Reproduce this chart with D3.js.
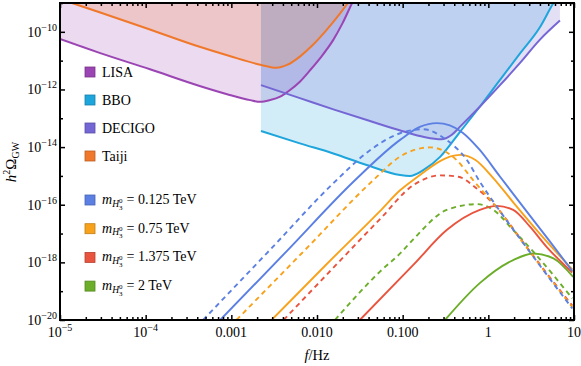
<!DOCTYPE html>
<html>
<head>
<meta charset="utf-8">
<script src="https://cdnjs.cloudflare.com/ajax/libs/d3/7.8.5/d3.min.js"></script>
<style>
    body { margin: 0; background: #fff; }
    svg { display: block; }
    svg text { font-family: "Liberation Serif", "DejaVu Serif", serif; }
</style>
</head>
<body>
<svg id="chart" width="581" height="366"></svg>
<script>
// all curves are [log10(f/Hz), log10(h^2 Omega_GW)]

// detector sensitivity curves
const lisa = [[-5, -10.25], [-4.53, -10.74], [-3.95, -11.30], [-3.37, -11.88], [-3.02, -12.19],
    [-2.78, -12.37], [-2.665, -12.43], [-2.55, -12.37], [-2.43, -12.25], [-2.315, -12.02],
    [-2.2, -11.73], [-2.08, -11.33], [-1.965, -10.92], [-1.81, -10.28], [-1.70, -9.69],
    [-1.59, -9.0], [-1.5, -8.5]];
const bbo = [[-2.654, -13.44], [-2.2, -13.87], [-1.81, -14.22], [-1.42, -14.62], [-1.03, -14.97],
    [-0.915, -15.0], [-0.76, -14.80], [-0.56, -14.33], [-0.33, -13.47], [-0.1, -12.60],
    [0.136, -11.67], [0.37, -10.75], [0.6, -9.85], [0.76, -9.0], [0.9, -8.4]];
const decigo = [[-2.654, -11.85], [-2.2, -12.3], [-1.8, -12.7], [-1.4, -13.08], [-1.0, -13.45],
    [-0.75, -13.65], [-0.55, -13.73], [-0.43, -13.58], [-0.33, -13.29], [-0.1, -12.60],
    [0.136, -11.85], [0.37, -11.08], [0.6, -10.28], [0.836, -9.61]];
const taiji = [[-5, -8.86], [-4.86, -9.0], [-4.53, -9.33], [-3.95, -9.92], [-3.37, -10.52],
    [-3.02, -10.84], [-2.65, -11.15], [-2.47, -11.25], [-2.35, -11.15], [-2.2, -10.86],
    [-2.05, -10.46], [-1.89, -9.94], [-1.73, -9.36], [-1.64, -9.0], [-1.55, -8.6]];

// GW spectra, solid and dashed version for each H3 mass
const blueSolid = [[-3.13, -20], [-2.35, -17.6], [-1.557, -15.15], [-1.03, -13.75], [-0.8, -13.3],
    [-0.6, -13.17], [-0.45, -13.25], [-0.3, -13.5], [-0.1, -14.1], [0.13, -15.0], [0.4, -16.05],
    [0.7, -17.2], [0.98, -18.3]];
const blueDash = [[-3.33, -20], [-2.55, -17.57], [-1.77, -15.14], [-1.4, -14.15], [-1.03, -13.52],
    [-0.76, -13.38], [-0.49, -13.75], [-0.25, -14.45], [-0.1, -15.2], [0.1, -16.07], [0.4, -17.3],
    [0.7, -18.5], [0.98, -19.6]];
const orangeSolid = [[-2.53, -20], [-1.9, -18.1], [-1.265, -16.22], [-1.03, -15.5], [-0.876, -15.14],
    [-0.33, -14.27], [-0.15, -14.45], [0.05, -15.05], [0.3, -15.95], [0.6, -17.0], [0.98, -18.25]];
const orangeDash = [[-2.94, -20], [-2.14, -17.57], [-1.34, -15.14], [-1.03, -14.33], [-0.68, -14.01],
    [-0.37, -14.45], [-0.18, -15.14], [0.1, -16.1], [0.4, -17.3], [0.7, -18.48], [0.98, -19.55]];
const redSolid = [[-1.5, -20], [-0.876, -18.09], [-0.486, -16.88], [-0.1, -16.18], [0.1, -16.04],
    [0.29, -16.18], [0.486, -16.76], [0.68, -17.46], [0.98, -18.35]];
const redDash = [[-2.39, -20], [-1.83, -18.25], [-1.265, -16.5], [-0.876, -15.32], [-0.56, -14.98],
    [-0.35, -15.03], [-0.15, -15.4], [0.1, -16.1], [0.4, -17.28], [0.7, -18.45], [0.98, -19.5]];
const greenSolid = [[-0.506, -20], [-0.1, -18.72], [0.29, -17.92], [0.525, -17.69], [0.76, -17.86], [0.99, -18.5]];
const greenDash = [[-1.79, -20], [-1.265, -18.32], [-1.03, -17.69], [-0.876, -17.2], [-0.486, -16.18],
    [-0.136, -15.98], [0.06, -16.18], [0.29, -16.88], [0.525, -17.63], [0.98, -19.25]];

const detectorNames = ["LISA", "BBO", "DECIGO", "Taiji"];
const detectorColors = ["#9b44b3", "#1ea5dc", "#7466d4", "#f0782a"];
const massLabels = ["0.125", "0.75", "1.375", "2"];
const massColors = ["#5b7fe3", "#f8a21c", "#e9543f", "#6cae2a"];

const xTickValues = [1e-5, 1e-4, 1e-3, 1e-2, 1e-1, 1, 10];
const xTickLabels = [["10", "−5"], ["10", "−4"], ["0.001", ""], ["0.010", ""], ["0.100", ""], ["1", ""], ["10", ""]];
const yLabelExponents = [-20, -18, -16, -14, -12, -10];

class GwChart {
    constructor(_config) {
        this.config = {
            parentElement: _config.parentElement,
            margin: { top: 3, right: 7, bottom: 46, left: 60 },
            containerWidth: 581,
            containerHeight: 366,
        };
        this.initVis();
    }

    initVis() {
        let vis = this;
        vis.width = vis.config.containerWidth - vis.config.margin.left - vis.config.margin.right;
        vis.height = vis.config.containerHeight - vis.config.margin.top - vis.config.margin.bottom;

        vis.svg = d3.select(vis.config.parentElement);
        vis.chart = vis.svg.append("g")
            .attr("transform", `translate(${vis.config.margin.left},${vis.config.margin.top})`);

        vis.x = d3.scaleLog().domain([1e-5, 10]).range([0, vis.width]);
        vis.y = d3.scaleLog().domain([1e-20, 1e-9]).range([vis.height, 0]);

        vis.chart.append("clipPath").attr("id", "plot-clip")
            .append("rect").attr("width", vis.width).attr("height", vis.height);

        vis.line = d3.line()
            .x(d => vis.x(Math.pow(10, d[0])))
            .y(d => vis.y(Math.pow(10, d[1])))
            .curve(d3.curveMonotoneX);
        vis.area = d3.area()
            .x(d => vis.x(Math.pow(10, d[0])))
            .y0(-20)
            .y1(d => vis.y(Math.pow(10, d[1])))
            .curve(d3.curveMonotoneX);

        vis.renderVis();
    }

    renderVis() {
        let vis = this;
        const plot = vis.chart.append("g").attr("clip-path", "url(#plot-clip)");

        const detectors = [lisa, bbo, decigo, taiji];
        // translucent sensitivity regions
        plot.selectAll(".region")
            .data(detectors)
            .join("path")
            .attr("class", "region")
            .attr("d", d => vis.area(d))
            .attr("fill", (d, i) => detectorColors[i])
            .attr("fill-opacity", 0.2);

        plot.selectAll(".sens")
            .data(detectors)
            .join("path")
            .attr("class", "sens")
            .attr("d", d => vis.line(d))
            .attr("fill", "none")
            .attr("stroke", (d, i) => detectorColors[i])
            .attr("stroke-width", 2);

        const signals = [
            { pts: greenSolid, c: 3, dash: false }, { pts: greenDash, c: 3, dash: true },
            { pts: redSolid, c: 2, dash: false }, { pts: redDash, c: 2, dash: true },
            { pts: orangeSolid, c: 1, dash: false }, { pts: orangeDash, c: 1, dash: true },
            { pts: blueSolid, c: 0, dash: false }, { pts: blueDash, c: 0, dash: true },
        ];
        plot.selectAll(".signal")
            .data(signals)
            .join("path")
            .attr("class", "signal")
            .attr("d", d => vis.line(d.pts))
            .attr("fill", "none")
            .attr("stroke", d => massColors[d.c])
            .attr("stroke-width", 1.9)
            .attr("stroke-dasharray", d => d.dash ? "5,4" : null);

        vis.renderAxes();
        vis.renderLegend();
    }

    renderAxes() {
        let vis = this;
        const minorX = [];
        for (let e = -5; e < 1; e++) {
            for (let k = 2; k <= 9; k++) minorX.push(k * Math.pow(10, e));
        }
        const majorY = d3.range(-20, -8).map(e => Math.pow(10, e));
        const tickStyle = g => {
            g.select(".domain").remove();
            g.selectAll("line").attr("stroke", "#000").attr("stroke-width", 1.5);
        };

        const axes = [
            [d3.axisBottom, vis.x, `translate(0,${vis.height})`],
            [d3.axisTop, vis.x, "translate(0,0)"],
        ];
        axes.forEach(([fn, sc, tr]) => {
            vis.chart.append("g").attr("transform", tr)
                .call(fn(sc).tickValues(xTickValues).tickSize(-5).tickFormat(""))
                .call(tickStyle);
            vis.chart.append("g").attr("transform", tr)
                .call(fn(sc).tickValues(minorX).tickSize(-3).tickFormat(""))
                .call(tickStyle);
        });
        [[d3.axisLeft, "translate(0,0)"], [d3.axisRight, `translate(${vis.width},0)`]].forEach(([fn, tr]) => {
            vis.chart.append("g").attr("transform", tr)
                .call(fn(vis.y).tickValues(majorY.filter((d, i) => i % 2 === 0)).tickSize(-5).tickFormat(""))
                .call(tickStyle);
            vis.chart.append("g").attr("transform", tr)
                .call(fn(vis.y).tickValues(majorY.filter((d, i) => i % 2 === 1)).tickSize(-3).tickFormat(""))
                .call(tickStyle);
        });

        vis.chart.append("rect")
            .attr("width", vis.width).attr("height", vis.height)
            .attr("fill", "none").attr("stroke", "#000").attr("stroke-width", 2);

        // x tick labels
        const xl = vis.chart.append("g").attr("font-size", 14).attr("text-anchor", "middle")
            .selectAll("text").data(xTickValues).join("text")
            .attr("x", d => vis.x(d))
            .attr("y", vis.height + 16.5);
        xl.append("tspan").text((d, i) => xTickLabels[i][0]);
        xl.filter((d, i) => xTickLabels[i][1] !== "")
            .append("tspan").attr("font-size", 10).attr("dy", -6)
            .text(d => xTickLabels[xTickValues.indexOf(d)][1]);

        // y tick labels
        const yl = vis.chart.append("g").attr("font-size", 14).attr("text-anchor", "end")
            .selectAll("text").data(yLabelExponents).join("text")
            .attr("x", -3)
            .attr("y", d => vis.y(Math.pow(10, d)) + 5);
        yl.append("tspan").text("10");
        yl.append("tspan").attr("font-size", 10).attr("dy", -6).text(d => "−" + Math.abs(d));

        // axis titles
        const xt = vis.chart.append("text").attr("font-size", 14.5).attr("text-anchor", "middle")
            .attr("x", vis.width / 2).attr("y", vis.height + 40);
        xt.append("tspan").attr("font-style", "italic").text("f");
        xt.append("tspan").text("/Hz");

        const yt = vis.svg.append("text").attr("font-size", 15).attr("text-anchor", "middle")
            .attr("transform", "translate(16,162) rotate(-90)");
        yt.append("tspan").attr("font-style", "italic").text("h");
        yt.append("tspan").attr("font-size", 10).attr("dy", -6).text("2");
        yt.append("tspan").attr("dy", 6).text("Ω");
        yt.append("tspan").attr("font-size", 10).attr("dy", 3).text("GW");
    }

    renderLegend() {
        let vis = this;
        const lx = 85;
        const rowsA = detectorNames.map((n, i) => ({ y: 72 + i * 28, color: detectorColors[i], name: n }));
        const rowsB = massLabels.map((m, i) => ({ y: 200 + i * 28.7, color: massColors[i], mass: m }));
        const rows = rowsA.concat(rowsB);

        const g = vis.svg.append("g").attr("font-size", 14);
        g.selectAll("rect").data(rows).join("rect")
            .attr("x", lx).attr("y", d => d.y - 5)
            .attr("width", 10).attr("height", 10)
            .attr("fill", d => d.color)
            .attr("stroke", d => d3.color(d.color).darker(0.7))
            .attr("stroke-width", 0.8);

        g.selectAll(".det").data(rowsA).join("text")
            .attr("class", "det")
            .attr("x", lx + 17).attr("y", d => d.y + 5)
            .text(d => d.name);

        const mt = g.selectAll(".mass").data(rowsB).join("text")
            .attr("class", "mass")
            .attr("x", lx + 17).attr("y", d => d.y + 4);
        mt.append("tspan").attr("font-style", "italic").text("m");
        mt.append("tspan").attr("font-style", "italic").attr("font-size", 9.5).attr("dy", 2.5).text("H");
        mt.append("tspan").attr("font-size", 7).attr("dy", -4).text("0");
        mt.append("tspan").attr("font-size", 7).attr("dx", -3.5).attr("dy", 7).text("3");
        mt.append("tspan").attr("dx", 4).attr("dy", -5.5).text(d => "= " + d.mass + " TeV");
    }
}

const chart = new GwChart({ parentElement: "#chart" });
</script>
</body>
</html>
